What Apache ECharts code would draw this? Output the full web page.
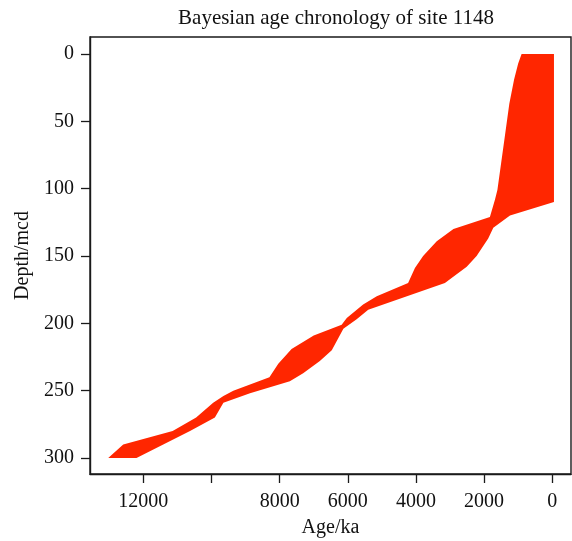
<!DOCTYPE html>
<html>
<head>
<meta charset="utf-8">
<title>Bayesian age chronology of site 1148</title>
<script src="https://cdn.jsdelivr.net/npm/echarts@6/dist/echarts.min.js"></script>
<style>
  html, body { margin: 0; padding: 0; background: #fff; }
  #chart { width: 572px; height: 541px; }
</style>
</head>
<body>
<div id="chart"></div>
<script>
// Older (left) edge of the age envelope, top to bottom
const olderDepth = [0, 7, 19, 37, 61, 81, 101, 108, 121, 130, 139, 150, 159, 170, 180, 186, 196, 201, 209, 219, 230, 240, 250, 254, 259, 270, 280, 290, 300];
const olderAge   = [900, 1000, 1120, 1260, 1390, 1500, 1610, 1680, 1830, 2900, 3390, 3790, 4030, 4230, 5150, 5550, 6030, 6180, 7000, 7650, 8040, 8300, 9360, 9650, 9950, 10450, 11140, 12590, 13030];

// Younger (right) edge of the age envelope, top to bottom
const youngerDepth = [0, 110, 120, 129, 137, 150, 158, 170, 190, 197, 204, 220, 228, 237, 243, 252, 259, 270, 280, 300];
const youngerAge   = [-50, -50, 1240, 1730, 1880, 2220, 2510, 3150, 5400, 5740, 6130, 6470, 6820, 7310, 7700, 8870, 9650, 9900, 10630, 12200];

// Axis ticks
const ageTicks = [0, 2000, 4000, 6000, 8000, 10000, 12000];
const ageLabels = [0, 2000, 4000, 6000, 8000, 12000];
const depthTicks = [0, 50, 100, 150, 200, 250, 300];

const FONT = '"Liberation Serif", "DejaVu Serif", serif';
const INK = '#1a1a1a';

const chart = echarts.init(document.getElementById('chart'), null, { renderer: 'canvas' });

chart.setOption({
  animation: false,
  backgroundColor: '#ffffff',
  title: {
    text: 'Bayesian age chronology of site 1148',
    left: 331,
    top: 3,
    textAlign: 'center',
    textStyle: { fontFamily: FONT, fontSize: 21, fontWeight: 'normal', color: '#111' }
  },
  grid: {
    left: 90, right: 1, top: 37, bottom: 67,
    containLabel: false,
    outerBoundsMode: 'none',
    show: true,
    borderColor: INK,
    borderWidth: 1.4,
    backgroundColor: '#fff'
  },
  xAxis: {
    type: 'value',
    inverse: true,
    min: -550,
    max: 13565,
    name: 'Age/ka',
    nameLocation: 'middle',
    nameGap: 44,
    nameTextStyle: { fontFamily: FONT, fontSize: 20, color: '#111' },
    axisLine: { show: true, onZero: false, lineStyle: { color: INK, width: 1.4 } },
    axisTick: { show: true, inside: false, length: 9, customValues: ageTicks, lineStyle: { color: INK, width: 1.3 } },
    axisLabel: {
      customValues: ageLabels,
      formatter: function (v) { return String(v); },
      margin: 18,
      fontFamily: FONT, fontSize: 20, color: '#111'
    },
    splitLine: { show: false }
  },
  yAxis: {
    type: 'value',
    inverse: true,
    min: -12.6,
    max: 311.9,
    name: 'Depth/mcd',
    nameLocation: 'middle',
    nameGap: 55,
    nameRotate: 90,
    nameTextStyle: { fontFamily: FONT, fontSize: 20, color: '#111' },
    axisLine: { show: true, onZero: false, lineStyle: { color: INK, width: 1.4 } },
    axisTick: { show: true, inside: false, length: 9, customValues: depthTicks, lineStyle: { color: INK, width: 1.3 } },
    axisLabel: {
      customValues: depthTicks,
      formatter: function (v) { return String(v); },
      margin: 16,
      fontFamily: FONT, fontSize: 20, color: '#111'
    },
    splitLine: { show: false }
  },
  series: [{
    type: 'custom',
    name: 'Age envelope',
    coordinateSystem: 'cartesian2d',
    data: [[0, 0]],
    clip: true,
    renderItem: function (params, api) {
      const pts = [];
      for (let i = 0; i < olderDepth.length; i++) {
        pts.push(api.coord([olderAge[i], olderDepth[i]]));
      }
      for (let i = youngerDepth.length - 1; i >= 0; i--) {
        pts.push(api.coord([youngerAge[i], youngerDepth[i]]));
      }
      return {
        type: 'polygon',
        shape: { points: pts },
        style: { fill: '#ff2600', stroke: null }
      };
    }
  }]
});
</script>
</body>
</html>
